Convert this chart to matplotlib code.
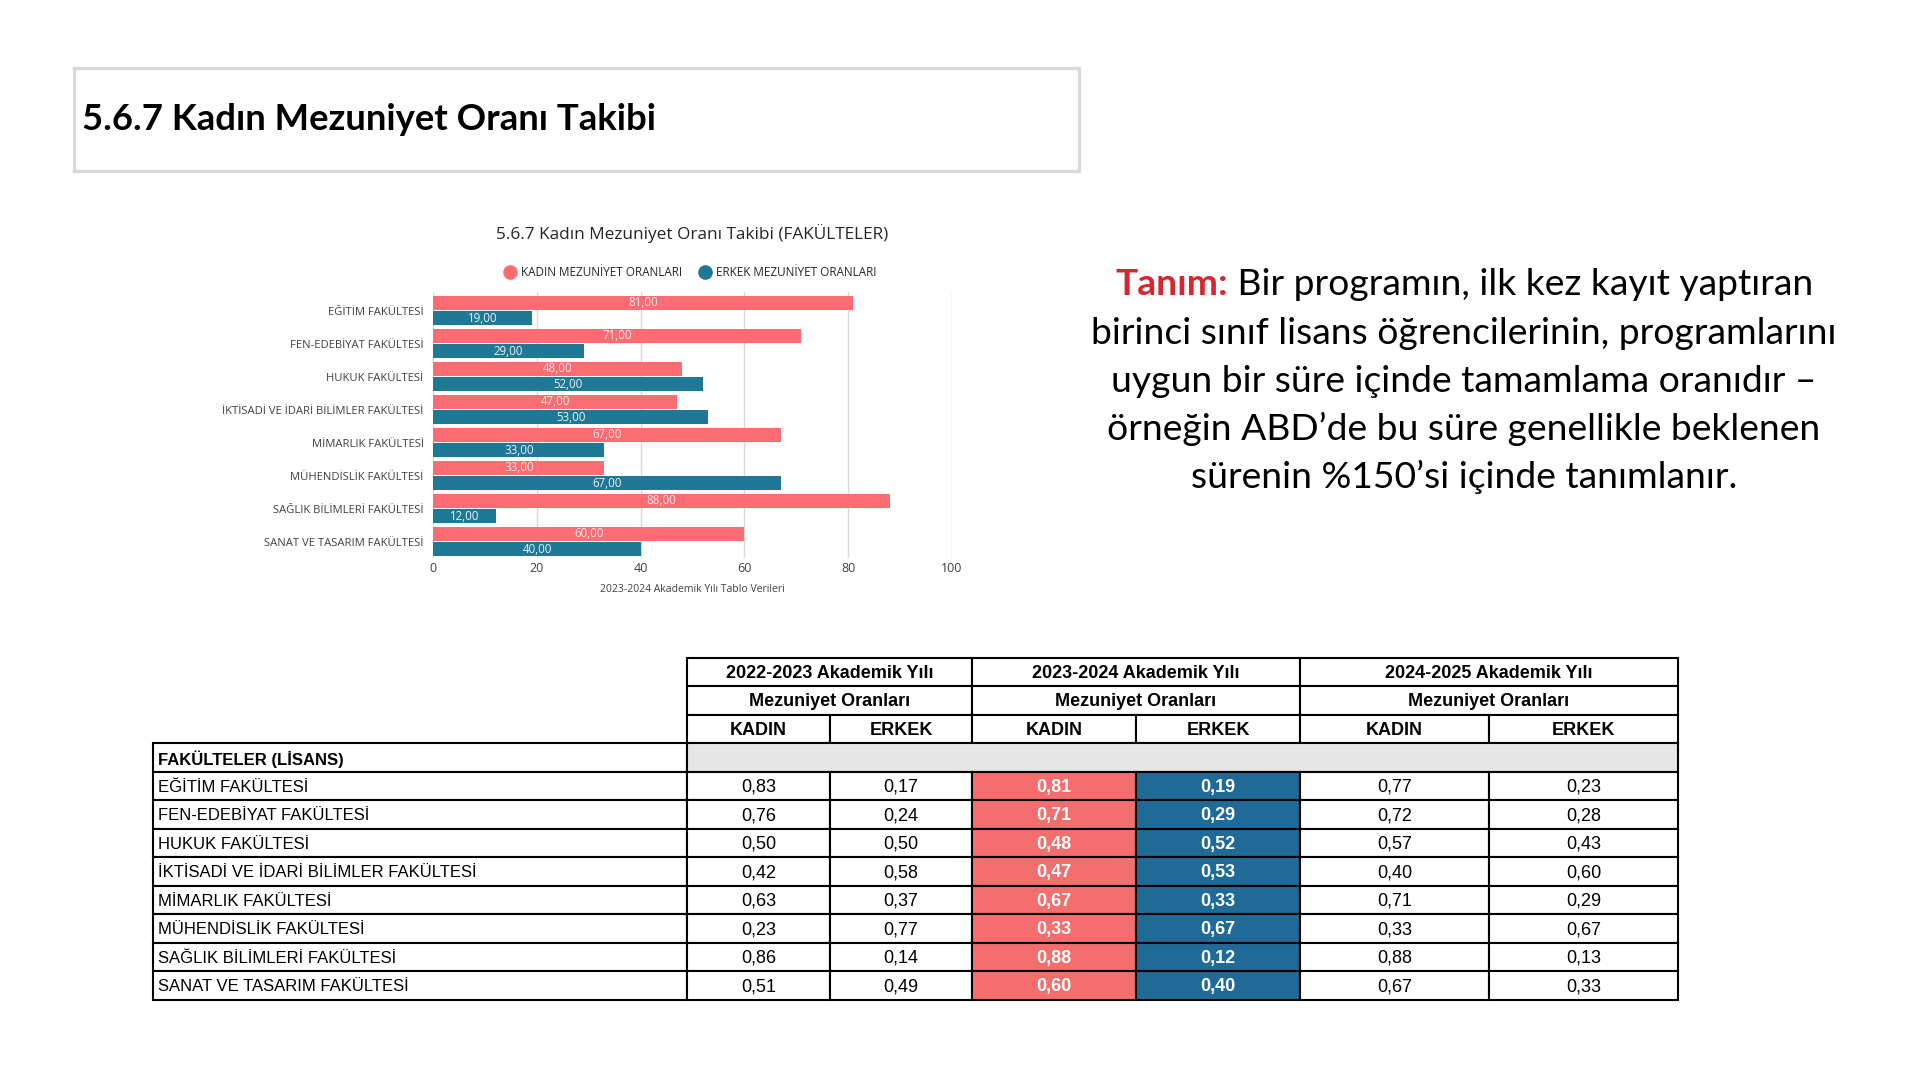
import matplotlib
matplotlib.use("Agg")
import matplotlib.pyplot as plt
from matplotlib.patches import Rectangle
from matplotlib.lines import Line2D
import numpy as np

# ---- data ----
faculties = [
    "EĞİTİM FAKÜLTESİ",
    "FEN-EDEBİYAT FAKÜLTESİ",
    "HUKUK FAKÜLTESİ",
    "İKTİSADİ VE İDARİ BİLİMLER FAKÜLTESİ",
    "MİMARLIK FAKÜLTESİ",
    "MÜHENDİSLİK FAKÜLTESİ",
    "SAĞLIK BİLİMLERİ FAKÜLTESİ",
    "SANAT VE TASARIM FAKÜLTESİ",
]
years = ["2022-2023 Akademik Yılı", "2023-2024 Akademik Yılı", "2024-2025 Akademik Yılı"]

kadin_2223 = [0.83, 0.76, 0.50, 0.42, 0.63, 0.23, 0.86, 0.51]
erkek_2223 = [0.17, 0.24, 0.50, 0.58, 0.37, 0.77, 0.14, 0.49]
kadin_2324 = [0.81, 0.71, 0.48, 0.47, 0.67, 0.33, 0.88, 0.60]
erkek_2324 = [0.19, 0.29, 0.52, 0.53, 0.33, 0.67, 0.12, 0.40]
kadin_2425 = [0.77, 0.72, 0.57, 0.40, 0.71, 0.33, 0.88, 0.67]
erkek_2425 = [0.23, 0.28, 0.43, 0.60, 0.29, 0.67, 0.13, 0.33]

x_ticks = [0, 20, 40, 60, 80, 100]

definition_lines = [
    "Bir programın, ilk kez kayıt yaptıran",
    "birinci sınıf lisans öğrencilerinin, programlarını",
    "uygun bir süre içinde tamamlama oranıdır –",
    "örneğin ABD’de bu süre genellikle beklenen",
    "sürenin %150’si içinde tanımlanır.",
]

PINK = "#FD6B73"
BLUE = "#1F7896"
CELL_PINK = "#F46E6D"
CELL_BLUE = "#206A98"
CHART_FONT = ["Open Sans", "DejaVu Sans"]
TABLE_FONT = ["Liberation Sans", "DejaVu Sans"]
TEXT_FONT = ["Lato", "DejaVu Sans"]


def tr(v, nd=2):
    return f"{v:.{nd}f}".replace(".", ",")


def fit_width(t, width, renderer):
    bb = t.get_window_extent(renderer)
    t.set_fontsize(t.get_fontsize() * width / bb.width)


def draw_chart(fig):
    ax = fig.add_axes([0.2257, 0.4833, 0.2700, 0.2463], zorder=2)
    ax.patch.set_alpha(0)
    k = np.array(kadin_2324) * 100
    e = np.array(erkek_2324) * 100
    y = np.arange(len(faculties))
    h = 0.44
    b1 = ax.barh(y - 0.233, k, height=h, color=PINK, zorder=2)
    b2 = ax.barh(y + 0.233, e, height=h, color=BLUE, zorder=2)
    ax.bar_label(b1, labels=[tr(v) for v in k], label_type="center",
                 color="white", alpha=0.85, fontsize=8.3, family=CHART_FONT)
    ax.bar_label(b2, labels=[tr(v) for v in e], label_type="center",
                 color="white", alpha=0.9, fontsize=8.3, family=CHART_FONT)
    ax.set_xlim(0, 100)
    ax.set_ylim(7.5, -0.56)
    ax.set_xticks(x_ticks)
    ax.set_xticklabels([str(t) for t in x_ticks], fontsize=9, color="#404040", family=CHART_FONT)
    ax.set_yticks(y)
    ax.set_yticklabels(faculties, fontsize=8.1, color="#404040", family=CHART_FONT)
    ax.tick_params(length=0, pad=7)
    ax.tick_params(axis="x", pad=3)
    ax.grid(axis="x", color="#D9D9D9", lw=1.0, zorder=0)
    for s in ax.spines.values():
        s.set_visible(False)
    ax.set_xlabel("2023-2024 Akademik Yılı Tablo Verileri", fontsize=7.5, color="#404040",
                  family=CHART_FONT, labelpad=6)

    fig.text(0.3607, 1 - 234 / 1080, "5.6.7 Kadın Mezuniyet Oranı Takibi (FAKÜLTELER)",
             ha="center", va="center", fontsize=12.4, color="#262626", family=CHART_FONT)
    handles = [
        Line2D([], [], marker="o", ls="", color=PINK, markersize=9.5, label="KADIN MEZUNİYET ORANLARI"),
        Line2D([], [], marker="o", ls="", color=BLUE, markersize=9.5, label="ERKEK MEZUNİYET ORANLARI"),
    ]
    fig.legend(handles=handles, ncol=2, loc="center", bbox_to_anchor=(0.3595, 1 - 273 / 1080),
               frameon=False, handletextpad=0.45, columnspacing=1.4, handlelength=1.0,
               prop={"family": CHART_FONT, "size": 8.5}, labelcolor="#262626")


def draw_table(ax):
    xs = [153, 687, 830, 972, 1136, 1300, 1489, 1678]
    y0, rh = 657.5, 28.5
    lw = 1.5

    def cell(x0, x1, r, text=None, fc="white", bold=False, left=False, color="black", size=13):
        ax.add_patch(Rectangle((x0, y0 + r * rh), x1 - x0, rh, facecolor=fc,
                               edgecolor="black", lw=lw, zorder=2))
        if text is not None:
            tx = x0 + 5 if left else (x0 + x1) / 2
            ax.text(tx, y0 + (r + 0.5) * rh + 1.5, text, ha="left" if left else "center",
                    va="center", fontsize=size, color=color, family=TABLE_FONT,
                    fontweight="bold" if bold else "normal", zorder=3)

    for j, yr in enumerate(years):
        a, b, c = xs[1 + 2 * j], xs[2 + 2 * j], xs[3 + 2 * j]
        cell(a, c, 0, yr, bold=True, size=13)
        cell(a, c, 1, "Mezuniyet Oranları", bold=True, size=13)
        cell(a, b, 2, "KADIN", bold=True, size=13)
        cell(b, c, 2, "ERKEK", bold=True, size=13)
    cell(xs[0], xs[1], 3, "FAKÜLTELER (LİSANS)", bold=True, left=True, size=12)
    cell(xs[1], xs[-1], 3, fc="#E6E6E6")

    for i, fac in enumerate(faculties):
        r = 4 + i
        cell(xs[0], xs[1], r, fac, left=True, size=12)
        vals = [kadin_2223[i], erkek_2223[i], kadin_2324[i], erkek_2324[i], kadin_2425[i], erkek_2425[i]]
        for c, v in enumerate(vals):
            if c == 2:
                cell(xs[c + 1], xs[c + 2], r, tr(v), fc=CELL_PINK, bold=True, color="white")
            elif c == 3:
                cell(xs[c + 1], xs[c + 2], r, tr(v), fc=CELL_BLUE, bold=True, color="white")
            else:
                cell(xs[c + 1], xs[c + 2], r, tr(v))


def draw_texts(fig, ax):
    renderer = fig.canvas.get_renderer()
    # page header box
    ax.add_patch(Rectangle((74, 68), 1005, 103, facecolor="white", edgecolor="#D9D9D9", lw=2.4))
    t = ax.text(82, 130, "5.6.7 Kadın Mezuniyet Oranı Takibi", ha="left", va="baseline",
                fontsize=24, fontweight="bold", color="black", family=TEXT_FONT)
    fit_width(t, 575, renderer)

    cx = 1464
    base = [295, 343.5, 392, 440, 488]
    probe = ax.text(cx, base[1], definition_lines[1], ha="center", va="baseline",
                    fontsize=27, color="black", family=TEXT_FONT)
    fit_width(probe, 746, renderer)
    fs = probe.get_fontsize()
    for line, yb in zip(definition_lines[2:], base[2:]):
        ax.text(cx, yb, line, ha="center", va="baseline", fontsize=fs, color="black", family=TEXT_FONT)
    red = ax.text(0, base[0], "Tanım:", ha="left", va="baseline", fontsize=fs,
                  fontweight="bold", color="#DA2530", family=TEXT_FONT)
    rest = ax.text(0, base[0], " " + definition_lines[0], ha="left", va="baseline",
                   fontsize=fs, color="black", family=TEXT_FONT)
    w1 = red.get_window_extent(renderer).width
    w2 = rest.get_window_extent(renderer).width
    start = cx - (w1 + w2) / 2
    red.set_x(start)
    rest.set_x(start + w1)


def main():
    fig = plt.figure(figsize=(19.2, 10.8), dpi=100)
    fig.patch.set_facecolor("white")
    bg = fig.add_axes([0, 0, 1, 1], zorder=0)
    bg.set_xlim(0, 1920)
    bg.set_ylim(1080, 0)
    bg.axis("off")

    draw_chart(fig)
    draw_table(bg)
    draw_texts(fig, bg)
    fig.savefig("out.png", dpi=100)


if __name__ == "__main__":
    main()
